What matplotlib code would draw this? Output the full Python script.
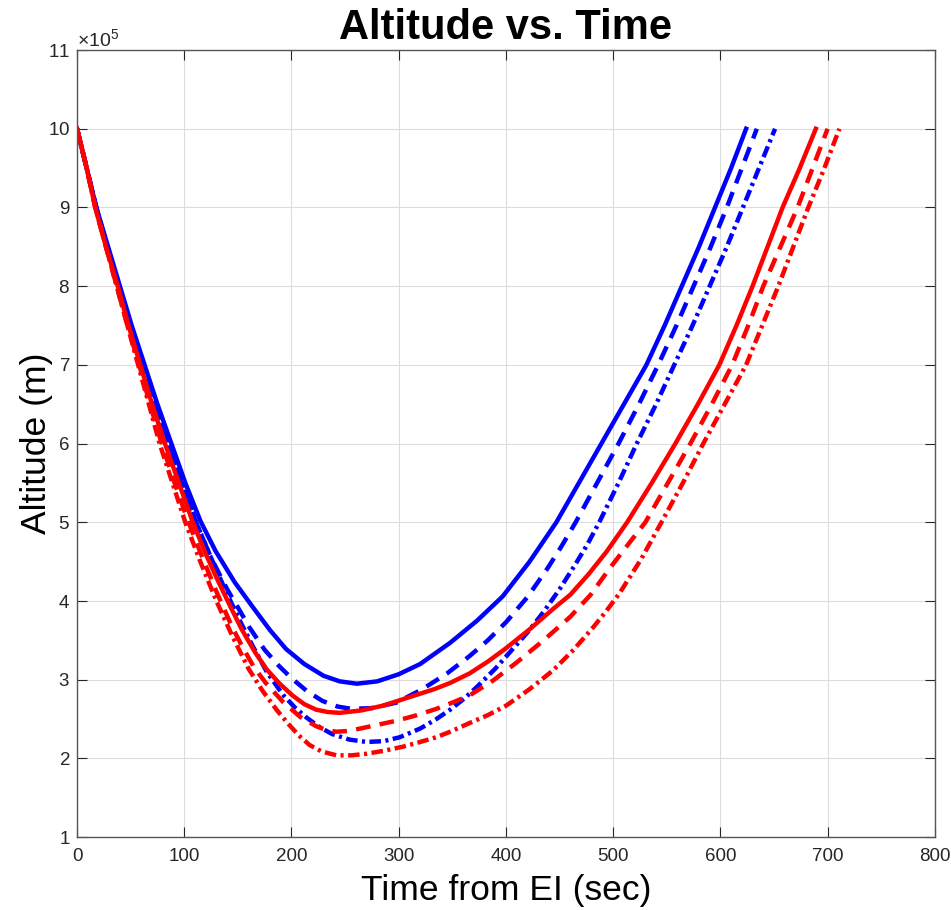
import matplotlib
matplotlib.use('Agg')
import matplotlib.pyplot as plt
import matplotlib.ticker as ticker
import numpy as np

plt.rcParams['font.family'] = ['Liberation Sans', 'DejaVu Sans']
plt.rcParams['mathtext.fontset'] = 'custom'
plt.rcParams['mathtext.rm'] = 'Liberation Sans'

# time from EI (sec) and altitude (x1e5 m)
t_blue_solid = [0, 9, 18, 29, 40, 51, 63, 75, 88, 101, 115, 129, 147, 163, 180, 195, 212, 230, 245, 261,
                280, 300, 320, 348, 373, 397, 422, 447, 468, 489, 510, 531, 548, 564, 580, 595, 610, 624]
h_blue_solid = [10, 9.5, 9, 8.5, 8, 7.5, 7, 6.5, 6, 5.5, 5.02, 4.64, 4.24, 3.94, 3.63, 3.39, 3.2, 3.05, 2.98, 2.95,
                2.98, 3.07, 3.2, 3.47, 3.75, 4.06, 4.5, 5.0, 5.5, 6.0, 6.5, 7.0, 7.5, 8.0, 8.5, 9.0, 9.5, 10.0]

t_blue_dash = [0, 9, 18, 28, 39, 50, 62, 74, 86, 98, 111, 125, 140, 150, 161, 175, 188, 200, 215, 229, 243, 256,
               275, 298, 322, 345, 366, 383, 400, 420, 439, 452, 465, 485, 505, 524, 542, 559, 575, 591, 606, 620, 634]
h_blue_dash = [10, 9.5, 9, 8.5, 8, 7.5, 7, 6.5, 6, 5.5, 5, 4.55, 4.15, 3.92, 3.66, 3.38, 3.18, 3.02, 2.85, 2.73, 2.66, 2.63,
               2.64, 2.71, 2.88, 3.08, 3.3, 3.5, 3.73, 4.05, 4.42, 4.7, 5.0, 5.5, 6.0, 6.5, 7.0, 7.5, 8.0, 8.5, 9.0, 9.5, 10.0]

t_blue_dd = [0, 9, 18, 28, 39, 50, 61, 73, 85, 98, 111, 124, 137, 150, 163, 177, 192, 203, 214, 226, 238, 254, 270,
             286, 301, 320, 335, 348, 361, 373, 390, 405, 420, 435, 450, 464, 476, 487, 505, 522, 540, 557, 574, 590,
             606, 621, 636, 651]
h_blue_dd = [10, 9.5, 9, 8.5, 8, 7.5, 7, 6.5, 6, 5.5, 5, 4.58, 4.18, 3.8, 3.45, 3.1, 2.81, 2.65, 2.52, 2.4, 2.31, 2.24, 2.21,
             2.22, 2.27, 2.38, 2.5, 2.62, 2.76, 2.91, 3.14, 3.37, 3.6, 3.86, 4.15, 4.45, 4.72, 5.0, 5.5, 6.0, 6.5, 7.0, 7.5, 8.0,
             8.5, 9.0, 9.5, 10.0]

t_red_solid = [0, 9, 17, 27, 38, 48, 59, 70, 82, 95, 108, 120, 131, 143, 154, 166, 177, 189, 201, 212, 223, 234, 245,
               265, 285, 301, 317, 333, 348, 366, 383, 400, 422, 444, 460, 477, 494, 513, 536, 558, 579, 599, 615, 630,
               644, 658, 674, 689]
h_red_solid = [10, 9.5, 9, 8.5, 8, 7.5, 7, 6.5, 6, 5.5, 5, 4.6, 4.27, 3.93, 3.63, 3.35, 3.13, 2.95, 2.8, 2.69, 2.62, 2.59, 2.58,
               2.61, 2.67, 2.74, 2.81, 2.88, 2.96, 3.08, 3.23, 3.4, 3.64, 3.9, 4.08, 4.34, 4.63, 5.0, 5.5, 6.0, 6.5, 7.0, 7.5, 8.0,
               8.5, 9.0, 9.5, 10.0]

t_red_dash = [0, 9, 17, 27, 37, 47, 58, 68, 79, 91, 104, 117, 130, 145, 155, 165, 176, 192, 208, 223, 233, 242, 253, 264,
              281, 298, 317, 335, 350, 366, 388, 410, 435, 460, 479, 497, 514, 530, 551, 572, 592, 611, 626, 640, 656,
              672, 686, 700]
h_red_dash = [10, 9.5, 9, 8.5, 8, 7.5, 7, 6.5, 6, 5.5, 5, 4.55, 4.12, 3.66, 3.4, 3.16, 2.96, 2.72, 2.53, 2.41, 2.36, 2.34, 2.35, 2.38,
              2.43, 2.48, 2.55, 2.63, 2.71, 2.8, 2.99, 3.22, 3.5, 3.8, 4.08, 4.42, 4.72, 5.0, 5.5, 6.0, 6.5, 7.0, 7.5, 8.0, 8.5,
              9.0, 9.5, 10.0]

t_red_dd = [0, 9, 17, 27, 37, 47, 57, 67, 77, 89, 101, 115, 130, 145, 160, 173, 186, 197, 207, 217, 228, 242, 256, 270,
            287, 304, 320, 335, 348, 366, 383, 400, 422, 444, 463, 481, 494, 506, 526, 545, 565, 584, 604, 624, 639, 654,
            668, 682, 697, 711]
h_red_dd = [10, 9.5, 9, 8.5, 8, 7.5, 7, 6.5, 6, 5.5, 5, 4.5, 4.0, 3.55, 3.14, 2.86, 2.62, 2.44, 2.29, 2.17, 2.09, 2.04, 2.04, 2.06,
            2.1, 2.15, 2.21, 2.27, 2.34, 2.45, 2.55, 2.67, 2.88, 3.12, 3.38, 3.66, 3.88, 4.1, 4.53, 5.0, 5.5, 6.0, 6.5, 7.0, 7.5, 8.0,
            8.5, 9.0, 9.5, 10.0]

dash = (0, (3.3, 2.1))
dashdot = (0, (2.6, 1.0, 0.7, 1.0))

fig = plt.figure(figsize=(9.51, 9.10), dpi=100)
ax = fig.add_axes([0.081, 0.080, 0.902, 0.865])

series = [
    (t_blue_solid, h_blue_solid, 'blue', '-'),
    (t_blue_dash, h_blue_dash, 'blue', dash),
    (t_blue_dd, h_blue_dd, 'blue', dashdot),
    (t_red_solid, h_red_solid, 'red', '-'),
    (t_red_dash, h_red_dash, 'red', dash),
    (t_red_dd, h_red_dd, 'red', dashdot),
]
for t, h, c, ls in series:
    ax.plot(t, np.array(h) * 1e5, color=c, linestyle=ls, linewidth=3.2)

ax.set_xlim(0, 800)
ax.set_ylim(1e5, 11e5)
ax.set_xticks(range(0, 801, 100))
ax.set_yticks(np.arange(1, 12) * 1e5)

fmt = ticker.ScalarFormatter(useMathText=True)
fmt.set_powerlimits((5, 5))
ax.yaxis.set_major_formatter(fmt)
ax.yaxis.get_offset_text().set_fontsize(14)
ax.yaxis.get_offset_text().set_color('#262626')

ax.grid(True, color='#dcdcdc', linewidth=0.8)
ax.set_axisbelow(True)
ax.tick_params(direction='in', top=True, right=True, length=7, width=0.8,
               labelsize=13.5, colors='#262626')
ax.tick_params(axis='x', pad=8)
ax.tick_params(axis='y', pad=5)
for s in ax.spines.values():
    s.set_color('#555555')
    s.set_linewidth(1.0)

ax.set_title('Altitude vs. Time', fontsize=30, fontweight='bold', pad=8)
ax.set_xlabel('Time from EI (sec)', fontsize=25.5, labelpad=6)
ax.set_ylabel('Altitude (m)', fontsize=25.5, labelpad=-4)

fig.savefig('out.png', dpi=100)
